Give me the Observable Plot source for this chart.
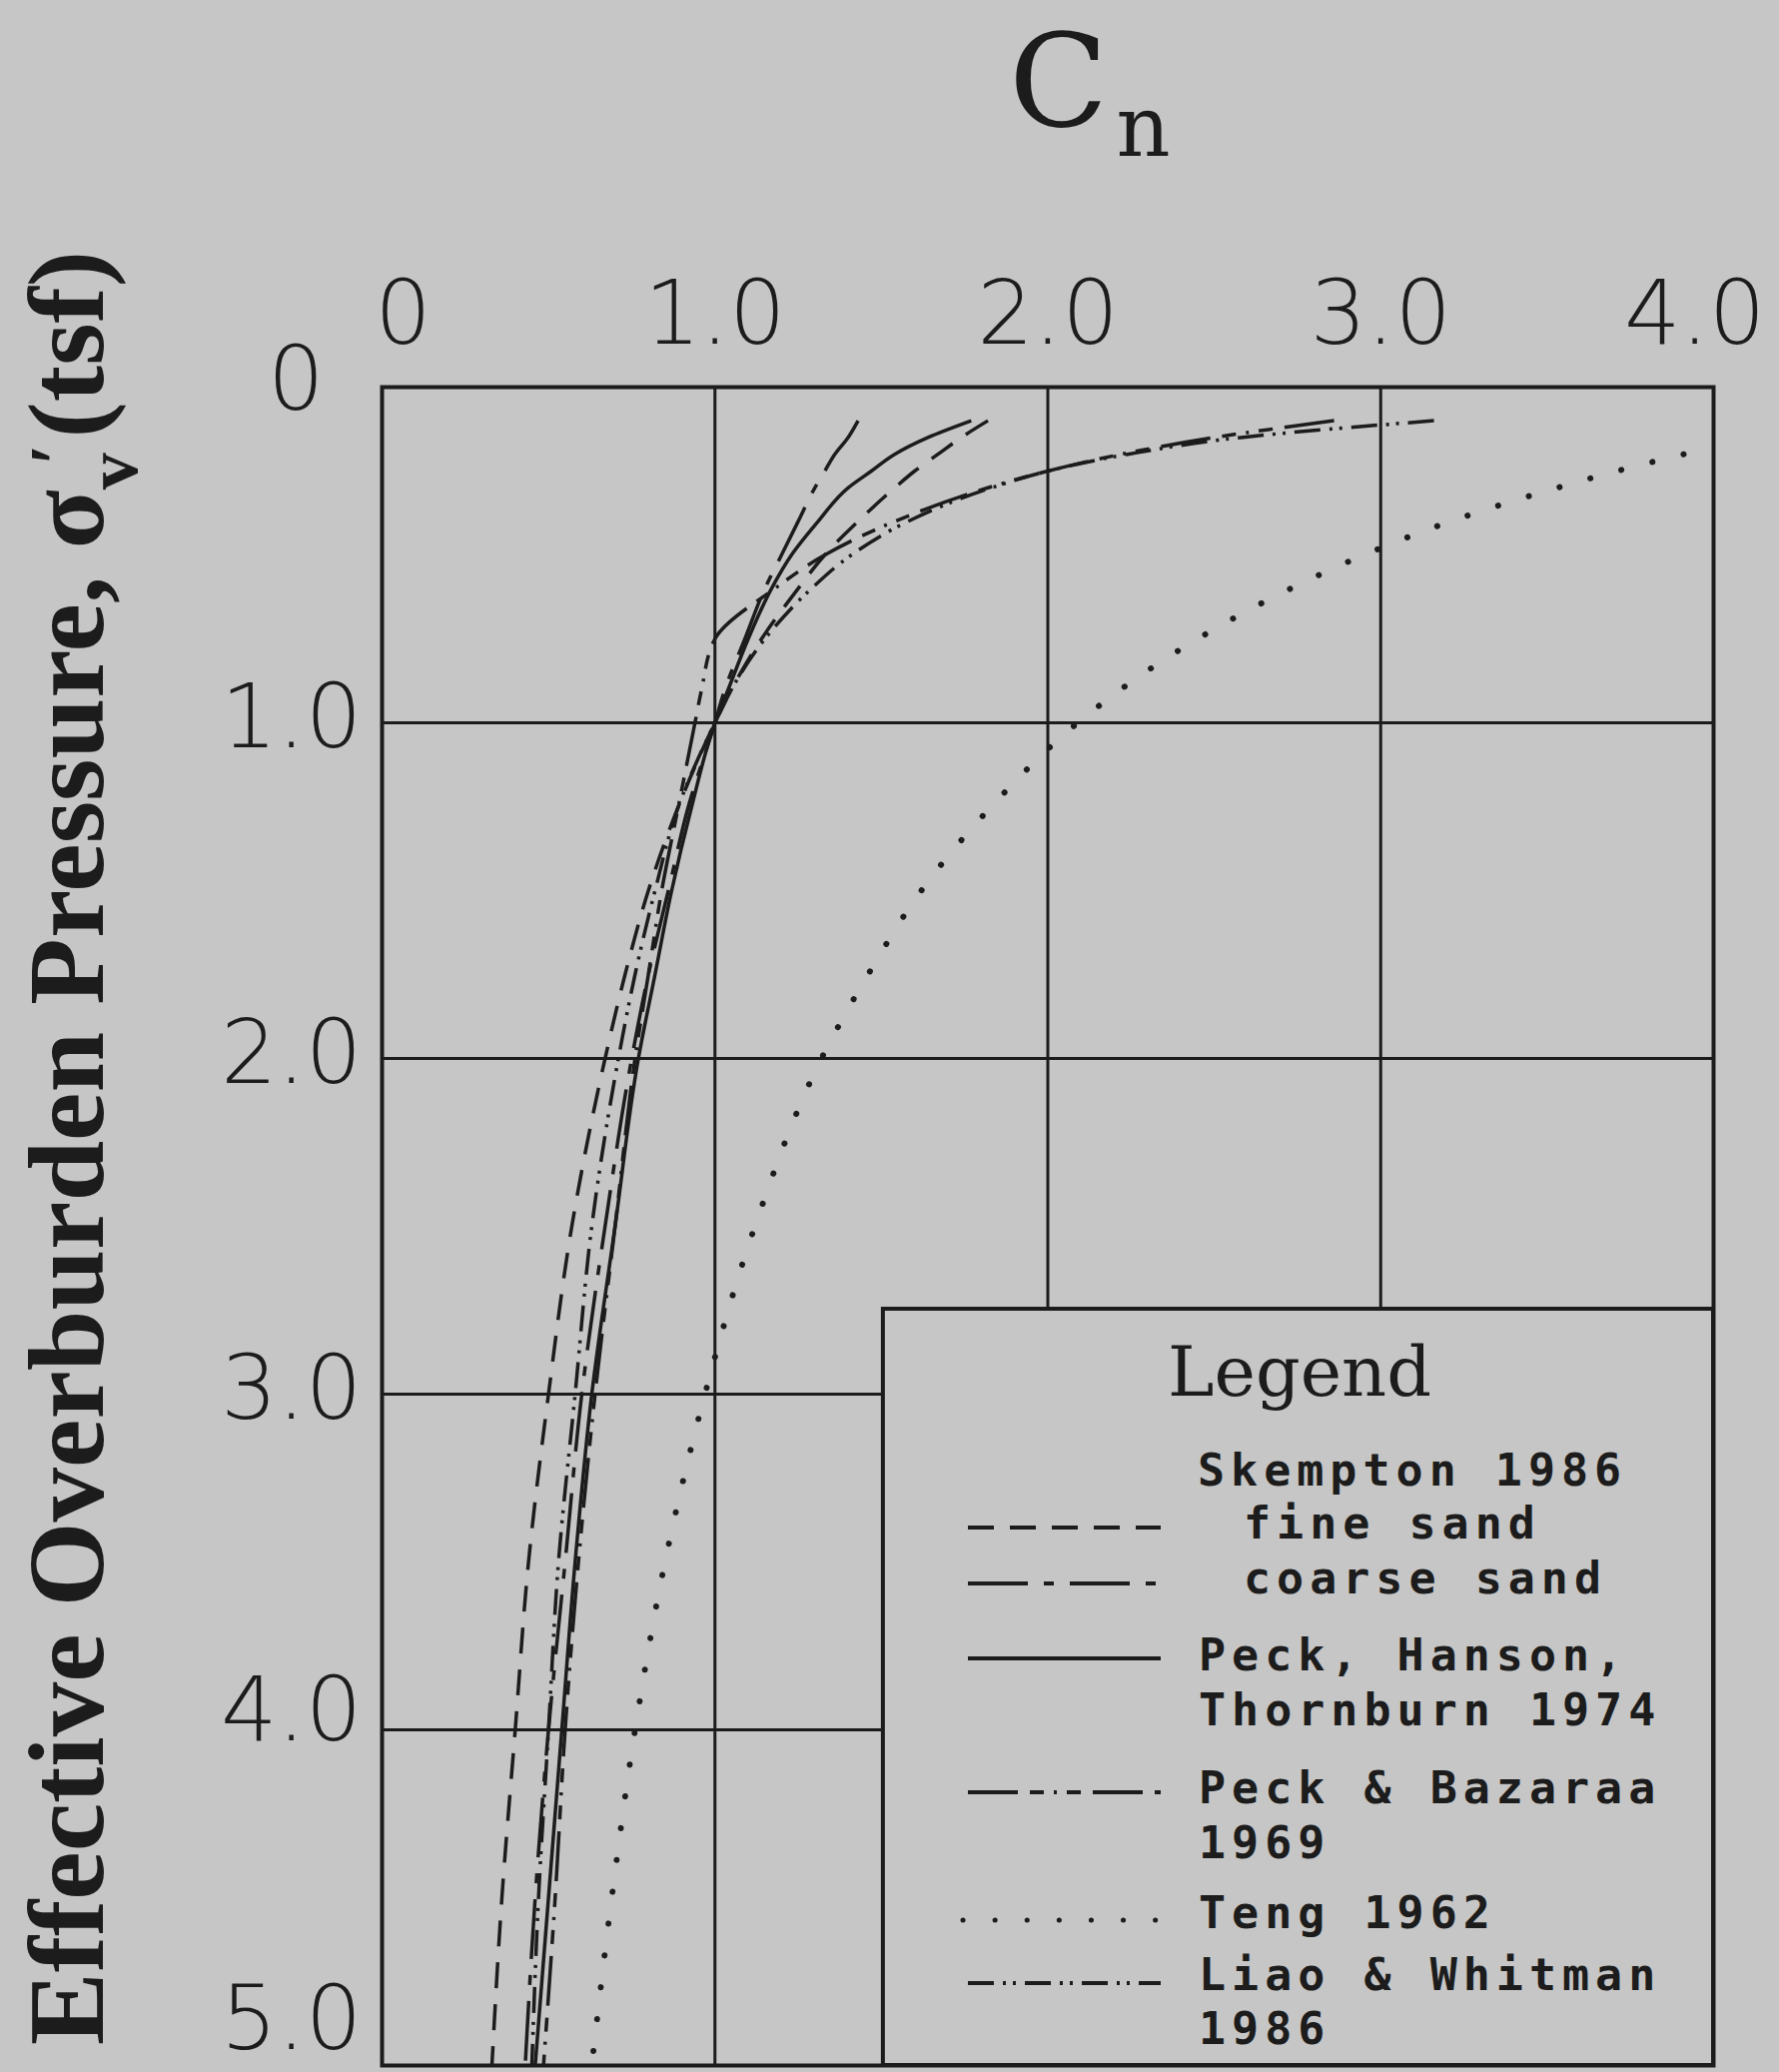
<!DOCTYPE html>
<html>
<head>
<meta charset="utf-8">
<script src="https://cdn.jsdelivr.net/npm/d3@7"></script>
<script src="https://cdn.jsdelivr.net/npm/@observablehq/plot@0.6"></script>
<style>
html, body { margin: 0; padding: 0; background: #c6c6c6; overflow: hidden; }
#chart { width: 1781px; height: 2074px; }
</style>
</head>
<body>
<div id="chart"></div>
<script>
// Effective overburden pressure (tsf) at which each curve was read
const sigma = [0.1, 0.15, 0.2, 0.25, 0.3, 0.4, 0.5, 0.6, 0.75, 0.9, 1.0, 1.25, 1.5, 1.75, 2.0, 2.5, 3.0, 3.5, 4.0, 4.5, 5.0];

// Cn values for each curve (null = off the chart)
const skemptonFine   = [1.82, 1.74, 1.67, 1.60, 1.54, 1.43, 1.33, 1.25, 1.14, 1.05, 1.00, 0.89, 0.80, 0.73, 0.67, 0.57, 0.50, 0.44, 0.40, 0.36, 0.33];
const skemptonCoarse = [1.43, 1.40, 1.36, 1.33, 1.30, 1.25, 1.20, 1.15, 1.09, 1.03, 1.00, 0.92, 0.86, 0.80, 0.75, 0.67, 0.60, 0.55, 0.50, 0.46, 0.43];
const peckHansonThornburn = [1.77, 1.64, 1.54, 1.47, 1.40, 1.31, 1.23, 1.17, 1.10, 1.04, 1.00, 0.93, 0.87, 0.82, 0.77, 0.70, 0.63, 0.58, 0.54, 0.50, 0.46];
const peckBazaraa    = [2.86, 2.50, 2.22, 2.00, 1.82, 1.54, 1.33, 1.18, 1.00, 0.96, 0.94, 0.89, 0.84, 0.80, 0.76, 0.70, 0.64, 0.59, 0.55, 0.52, 0.485];
const teng           = [null, null, 3.91, 3.71, 3.53, 3.21, 2.95, 2.73, 2.45, 2.22, 2.09, 1.83, 1.62, 1.46, 1.32, 1.12, 0.97, 0.85, 0.76, 0.69, 0.63];
const liaoWhitman    = [3.16, 2.58, 2.24, 2.00, 1.83, 1.58, 1.41, 1.29, 1.15, 1.05, 1.00, 0.89, 0.82, 0.76, 0.71, 0.63, 0.58, 0.53, 0.50, 0.47, 0.45];

const xTicks = [0, 1, 2, 3, 4];
const yTicks = [0, 1, 2, 3, 4, 5];

const legendLines = [
  "Skempton 1986", "fine sand", "coarse sand",
  "Peck, Hanson,", "Thornburn 1974",
  "Peck & Bazaraa", "1969",
  "Teng 1962",
  "Liao & Whitman", "1986"
];

const ink = "#1c1c1c";
const bg = "#c6c6c6";

const series = [
  {key: "fine",   values: skemptonFine,        dash: "26,16",                      width: 3.5, cap: "butt"},
  {key: "coarse", values: skemptonCoarse,      dash: "60,16,10,16",                width: 3.5, cap: "butt"},
  {key: "pht",    values: peckHansonThornburn, dash: null,                         width: 3.5, cap: "butt"},
  {key: "pb",     values: peckBazaraa,         dash: "50,12,14,10,3,10,14,12",     width: 3.5, cap: "butt"},
  {key: "teng",   values: teng,                dash: "0.1,32",                     width: 6,   cap: "round"},
  {key: "lw",     values: liaoWhitman,         dash: "26,9,3,7,3,9",               width: 3.5, cap: "butt"}
];

const rows = series.flatMap(s => sigma.map((sg, i) => ({key: s.key, sigma: sg, cn: s.values[i]})));

const curveMarks = series.map(s => Plot.line(rows.filter(r => r.key === s.key), {
  x: "cn", y: "sigma", curve: "monotone-y", clip: true,
  stroke: ink, strokeWidth: s.width, strokeDasharray: s.dash || undefined,
  strokeLinecap: s.cap
}));

const tickFmt = d => d === 0 ? "0" : d.toFixed(1);
const axisText = {tickSize: 0, label: null, tickFormat: tickFmt,
  fontSize: 89, fontWeight: 200, fontFamily: "DejaVu Sans", fill: ink};

const plot = Plot.plot({
  width: 1781,
  height: 2074,
  marginLeft: 382,
  marginRight: 66,
  marginTop: 387,
  marginBottom: 7,
  style: {background: bg, color: ink, fontFamily: "DejaVu Sans"},
  x: {domain: [0, 4]},
  y: {domain: [0, 5], reverse: true},
  marks: [
    Plot.gridX(xTicks, {stroke: ink, strokeOpacity: 1, strokeWidth: 3}),
    Plot.gridY(yTicks, {stroke: ink, strokeOpacity: 1, strokeWidth: 3}),
    ...curveMarks,
    Plot.frame({stroke: ink, strokeWidth: 4}),
    Plot.axisX(xTicks.filter(d => d > 0 && d < 4), {anchor: "top", tickPadding: 44, ...axisText}),
    Plot.axisX(xTicks.filter(d => d === 0), {anchor: "top", tickPadding: 44, dx: 21, ...axisText}),
    Plot.axisX(xTicks.filter(d => d === 4), {anchor: "top", tickPadding: 44, textAnchor: "end", dx: 52, ...axisText}),
    Plot.axisY(yTicks.filter(d => d > 0 && d < 4), {anchor: "left", tickPadding: 20, dy: -4, ...axisText}),
    Plot.axisY(yTicks.filter(d => d === 4), {anchor: "left", tickPadding: 20, dy: -18, ...axisText}),
    Plot.axisY(yTicks.filter(d => d === 5), {anchor: "left", tickPadding: 20, dy: -45, ...axisText}),
    Plot.axisY(yTicks.filter(d => d === 0), {anchor: "left", tickPadding: 20, dx: -38, dy: -6, ...axisText})
  ]
});

document.getElementById("chart").appendChild(plot);
const svg = d3.select(plot);

// Title C_n
const title = svg.append("text")
  .attr("x", 1010).attr("y", 126).attr("text-anchor", "start")
  .attr("font-family", "DejaVu Serif").attr("font-size", 130).attr("fill", ink);
title.append("tspan").text("C");
title.append("tspan").attr("font-size", 84).attr("dx", 8).attr("dy", 30).text("n");

// Y axis label
const yl = svg.append("text")
  .attr("transform", "translate(103,2047) rotate(-90)").attr("text-anchor", "start")
  .attr("font-family", "Liberation Serif").attr("font-weight", "bold")
  .attr("font-size", 109).attr("fill", ink);
yl.append("tspan").text("Effective Overburden Pressure, σ");
yl.append("tspan").attr("font-size", 74).attr("dy", 34).text("v");
yl.append("tspan").attr("font-size", 74).attr("dx", -12).attr("dy", -56).text("′");
yl.append("tspan").attr("dx", 6).attr("dy", 22).text("(tsf)");

// Legend box
const xs = plot.scale("x"), ys = plot.scale("y");
const lx0 = xs.apply(1.506), ly0 = ys.apply(2.747), lx1 = xs.apply(4), ly1 = ys.apply(5);
const lg = svg.append("g").attr("text-anchor", "start");
lg.append("rect").attr("x", lx0).attr("y", ly0).attr("width", lx1 - lx0).attr("height", ly1 - ly0)
  .attr("fill", bg).attr("stroke", ink).attr("stroke-width", 4);
lg.append("text").attr("x", 1301).attr("y", 1397).attr("text-anchor", "middle")
  .attr("font-family", "DejaVu Serif").attr("font-size", 70).attr("fill", ink).text("Legend");

const textPos = [[1199,1487],[1245,1540],[1245,1595],[1200,1672],[1200,1727],[1200,1805],[1200,1860],[1200,1930],[1200,1992],[1200,2046]];
legendLines.forEach((t, i) => {
  lg.append("text").attr("x", textPos[i][0]).attr("y", textPos[i][1]).attr("text-anchor", "start")
    .attr("font-family", "DejaVu Sans Mono").attr("font-weight", "bold")
    .attr("font-size", 45).attr("letter-spacing", 6).attr("fill", ink)
    .text(t);
});

const sampleY = {fine: 1529, coarse: 1585, pht: 1660, pb: 1794, teng: 1922, lw: 1985};
series.forEach(s => {
  lg.append("line")
    .attr("x1", s.key === "teng" ? 964 : 969).attr("x2", s.key === "teng" ? 1166 : 1162)
    .attr("y1", sampleY[s.key]).attr("y2", sampleY[s.key])
    .attr("stroke", ink).attr("stroke-width", s.key === "teng" ? 5 : 4)
    .attr("stroke-linecap", s.cap)
    .attr("stroke-dasharray", s.dash);
});
</script>
</body>
</html>
